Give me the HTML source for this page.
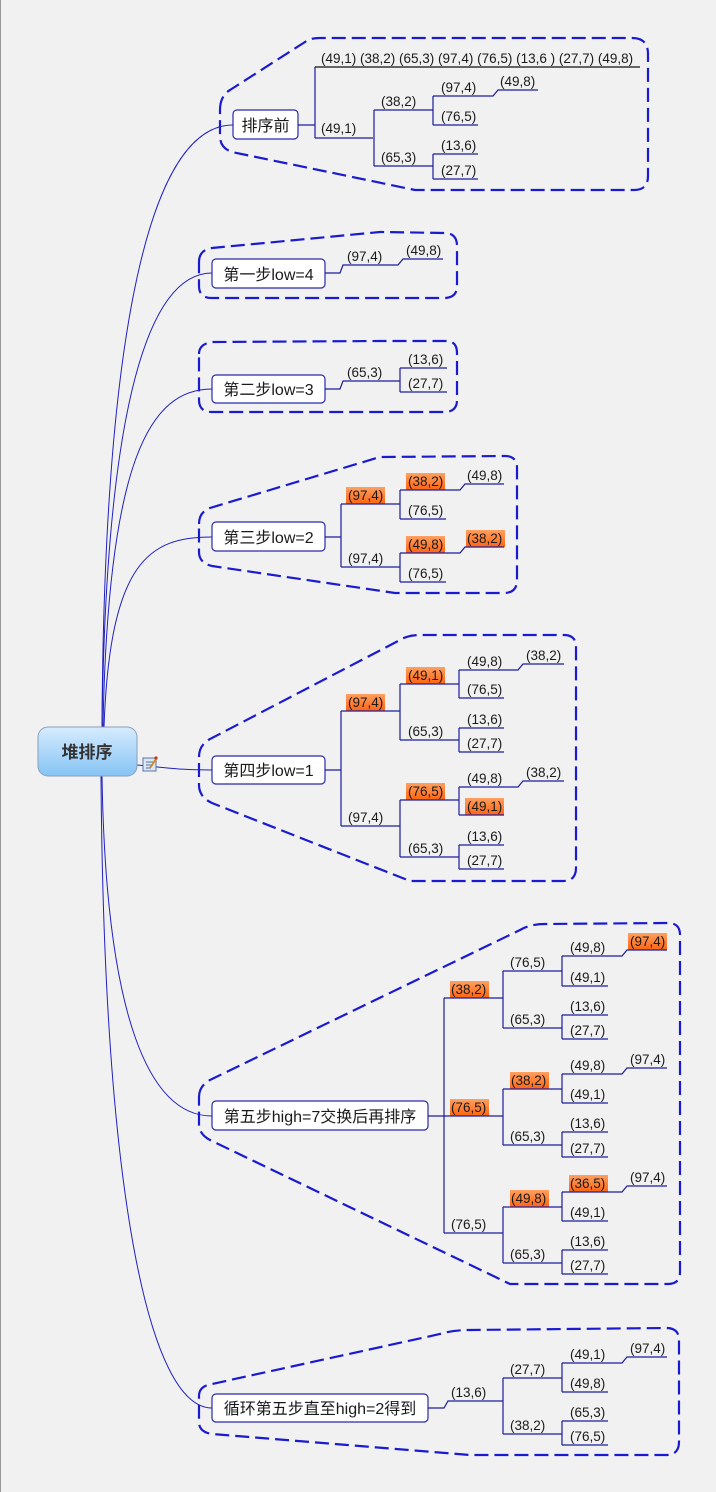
<!DOCTYPE html>
<html><head><meta charset="utf-8"><style>
html,body{margin:0;padding:0;background:#f1f1f1}
svg{display:block}
.t{font-family:"Liberation Sans","Noto Sans CJK SC",sans-serif;font-size:13.5px;fill:#1a1a1a}
.b{font-family:"Liberation Sans","Noto Sans CJK SC",sans-serif;font-size:16px;fill:#1a1a1a}
.l{stroke:#1c1c9c;fill:none;stroke-width:1.2}
.m{stroke:#2020c0;fill:none;stroke-width:1}
.d{stroke:#1a1ad0;fill:none;stroke-width:2.2;stroke-dasharray:14,6}
.o{fill:url(#og)}
.bx{fill:#fff;stroke:#2a2aa8;stroke-width:1.2}
</style></head><body>
<svg width="716" height="1492" viewBox="0 0 716 1492" xmlns="http://www.w3.org/2000/svg">
<defs>
<linearGradient id="og" x1="0" y1="0" x2="0" y2="1"><stop offset="0" stop-color="#ffa060"/><stop offset="1" stop-color="#ff6410"/></linearGradient>
<linearGradient id="rg" x1="0" y1="0" x2="0" y2="1"><stop offset="0" stop-color="#d6ecff"/><stop offset="1" stop-color="#86c4f4"/></linearGradient>
</defs>
<rect x="0" y="0" width="716" height="1492" fill="#f1f1f1"/>
<line x1="0.5" y1="0" x2="0.5" y2="1492" stroke="#999" stroke-width="1"/>

<path class="m" d="M102 727 C104 330 150 125 233 125"/>
<path class="m" d="M102 727 C106 400 150 273 212 273"/>
<path class="m" d="M103 727 C108 460 150 389 212 389"/>
<path class="m" d="M104 727 C110 560 150 537 212 537"/>
<path class="m" d="M137 765 C170 768 180 770 212 770"/>
<path class="m" d="M102 776 C106 1020 150 1116 212 1116"/>
<path class="m" d="M101 776 C104 1200 150 1408 212 1408"/>

<path class="d" d="M220 110 Q220 96 230 90 L305 42 Q310 38 320 38 L632 38 Q648 38 648 54 L648 176 Q648 190 634 190 L415 190 L232 152 Q220 148 220 136 Z"/>
<path class="d" d="M199 262 Q199 250 212 248 L380 232 L446 233 Q457 234 457 246 L457 286 Q457 298 444 298 L212 298 Q199 298 199 286 Z"/>
<path class="d" d="M199 354 Q199 344 212 342 L380 341 L446 341 Q457 341 457 353 L457 400 Q457 412 444 412 L212 412 Q199 412 199 400 Z"/>
<path class="d" d="M199 524 Q199 512 210 508 L380 457 L505 456 Q517 456 517 468 L517 580 Q517 593 504 593 L395 593 L212 566 Q199 563 199 552 Z"/>
<path class="d" d="M199 757 Q199 744 212 738 L400 640 Q408 635 420 635 L564 635 Q576 635 576 647 L576 868 Q576 881 563 881 L410 881 L212 803 Q199 797 199 785 Z"/>
<path class="d" d="M199 1097 Q199 1085 212 1079 L520 930 Q530 924 545 924 L668 923 Q680 923 680 935 L680 1272 Q680 1284 668 1284 L510 1284 L212 1141 Q199 1135 199 1124 Z"/>
<path class="d" d="M199 1396 Q199 1386 212 1384 L440 1334 Q452 1330 470 1330 L666 1328 Q679 1328 679 1340 L679 1442 Q679 1455 666 1455 L470 1455 L212 1434 Q199 1432 199 1422 Z"/>

<rect x="38" y="727" width="99" height="49" rx="10" fill="url(#rg)" stroke="#8aa0b8" stroke-width="1"/>
<text x="87" y="758" text-anchor="middle" font-family="Liberation Sans,Noto Sans CJK SC,sans-serif" font-size="17" font-weight="bold" fill="#333">堆排序</text>
<rect x="143" y="758" width="13" height="13" fill="#dde6f4" stroke="#5577aa" stroke-width="1"/>
<path d="M146 762 H153 M146 765 H153 M146 768 H151" stroke="#5577aa" stroke-width="1"/>
<path d="M150 768 L156 759" stroke="#d09020" stroke-width="2"/>
<circle cx="156" cy="758" r="1.6" fill="#d03020"/>

<rect class="bx" x="233" y="110" width="65" height="29" rx="4"/><text class="b" x="265.5" y="131" text-anchor="middle">排序前</text>
<rect class="bx" x="212" y="259" width="113" height="29" rx="4"/><text class="b" x="268.5" y="280" text-anchor="middle">第一步low=4</text>
<rect class="bx" x="212" y="375" width="113" height="28" rx="4"/><text class="b" x="268.5" y="395" text-anchor="middle">第二步low=3</text>
<rect class="bx" x="212" y="522" width="113" height="29" rx="4"/><text class="b" x="268.5" y="543" text-anchor="middle">第三步low=2</text>
<rect class="bx" x="212" y="756" width="113" height="28" rx="4"/><text class="b" x="268.5" y="776" text-anchor="middle">第四步low=1</text>
<rect class="bx" x="212" y="1101" width="216" height="29" rx="4"/><text class="b" x="320" y="1122" text-anchor="middle">第五步high=7交换后再排序</text>
<rect class="bx" x="212" y="1394" width="216" height="28" rx="4"/><text class="b" x="320" y="1414" text-anchor="middle">循环第五步直至high=2得到</text>

<path class="l" d="M298 125 H315 M315 67 V138"/>
<path d="M315 67 H640" stroke="#111" stroke-width="1.2"/>
<text class="t" x="321" y="63">(49,1) (38,2) (65,3) (97,4) (76,5) (13,6 ) (27,7) (49,8)</text>
<path class="l" d="M315 138 H373 M374 110 V166 M374 110 H432 M374 166 H432 M432 110 H433 M433 96 V125 M433 96 H493 L498 90 H538 M433 125 H478 M432 166 H433 M433 154 V179 M433 154 H478 M433 179 H478"/>
<text class="t" x="321" y="133">(49,1)</text>
<text class="t" x="381" y="106">(38,2)</text>
<text class="t" x="381" y="162">(65,3)</text>
<text class="t" x="441" y="92">(97,4)</text>
<text class="t" x="500" y="86">(49,8)</text>
<text class="t" x="441" y="121">(76,5)</text>
<text class="t" x="441" y="150">(13,6)</text>
<text class="t" x="441" y="175">(27,7)</text>

<path class="l" d="M325 273 H340 L343 265 H398 L403 259 H443"/>
<text class="t" x="347" y="261">(97,4)</text>
<text class="t" x="406" y="255">(49,8)</text>

<path class="l" d="M325 389 H340 L343 381 H400 M400 368 V392 M400 368 H447 M400 392 H447"/>
<text class="t" x="347" y="377">(65,3)</text>
<text class="t" x="408" y="364">(13,6)</text>
<text class="t" x="408" y="388">(27,7)</text>

<rect class="o" x="346" y="487" width="39" height="17"/>
<rect class="o" x="406" y="473" width="39" height="17"/>
<rect class="o" x="406" y="536" width="39" height="17"/>
<rect class="o" x="466" y="530" width="39" height="17"/>
<path class="l" d="M325 537 H341 M341 504 V567 M341 504 H400 M341 567 H400 M400 490 V519 M400 490 H460 L465 484 H504 M400 519 H446 M400 553 V582 M400 553 H460 L465 547 H504 M400 582 H446"/>
<text class="t" x="348" y="500">(97,4)</text>
<text class="t" x="348" y="563">(97,4)</text>
<text class="t" x="408" y="486">(38,2)</text>
<text class="t" x="408" y="515">(76,5)</text>
<text class="t" x="467" y="480">(49,8)</text>
<text class="t" x="408" y="549">(49,8)</text>
<text class="t" x="408" y="578">(76,5)</text>
<text class="t" x="467" y="543">(38,2)</text>

<rect class="o" x="346" y="694" width="39" height="17"/>
<rect class="o" x="406" y="667" width="39" height="17"/>
<rect class="o" x="406" y="783" width="39" height="17"/>
<rect class="o" x="465" y="798" width="39" height="17"/>
<path class="l" d="M325 770 H341 M341 711 V826 M341 711 H400 M341 826 H400
M400 684 V740 M400 684 H459 M400 740 H459
M459 670 V698 M459 670 H518 L523 664 H564 M459 698 H504
M459 728 V752 M459 728 H504 M459 752 H504
M400 800 V857 M400 800 H459 M400 857 H459
M459 787 V815 M459 787 H518 L523 781 H564 M459 815 H504
M459 845 V869 M459 845 H504 M459 869 H504"/>
<text class="t" x="348" y="707">(97,4)</text>
<text class="t" x="348" y="822">(97,4)</text>
<text class="t" x="408" y="680">(49,1)</text>
<text class="t" x="408" y="736">(65,3)</text>
<text class="t" x="467" y="666">(49,8)</text>
<text class="t" x="467" y="694">(76,5)</text>
<text class="t" x="526" y="660">(38,2)</text>
<text class="t" x="467" y="724">(13,6)</text>
<text class="t" x="467" y="748">(27,7)</text>
<text class="t" x="408" y="796">(76,5)</text>
<text class="t" x="408" y="853">(65,3)</text>
<text class="t" x="467" y="783">(49,8)</text>
<text class="t" x="467" y="811">(49,1)</text>
<text class="t" x="526" y="777">(38,2)</text>
<text class="t" x="467" y="841">(13,6)</text>
<text class="t" x="467" y="865">(27,7)</text>

<rect class="o" x="450" y="981" width="39" height="17"/>
<rect class="o" x="628" y="933" width="39" height="17"/>
<rect class="o" x="450" y="1099" width="39" height="17"/>
<rect class="o" x="510" y="1072" width="39" height="17"/>
<rect class="o" x="510" y="1190" width="39" height="17"/>
<rect class="o" x="569" y="1175" width="39" height="17"/>
<path class="l" d="M428 1116 H444 M444 998 V1233 M444 998 H503 M444 1116 H503 M444 1233 H503
M503 971 V1028 M503 971 H562 M503 1028 H562
M562 956 V986 M562 956 H622 L627 950 H667 M562 986 H608
M562 1015 V1039 M562 1015 H608 M562 1039 H608
M503 1089 V1145 M503 1089 H562 M503 1145 H562
M562 1074 V1103 M562 1074 H622 L627 1068 H667 M562 1103 H608
M562 1132 V1157 M562 1132 H608 M562 1157 H608
M503 1207 V1263 M503 1207 H562 M503 1263 H562
M562 1192 V1221 M562 1192 H622 L627 1186 H667 M562 1221 H608
M562 1250 V1274 M562 1250 H608 M562 1274 H608"/>
<text class="t" x="451" y="994">(38,2)</text>
<text class="t" x="451" y="1112">(76,5)</text>
<text class="t" x="451" y="1229">(76,5)</text>
<text class="t" x="510" y="967">(76,5)</text>
<text class="t" x="510" y="1024">(65,3)</text>
<text class="t" x="570" y="952">(49,8)</text>
<text class="t" x="570" y="982">(49,1)</text>
<text class="t" x="630" y="946">(97,4)</text>
<text class="t" x="570" y="1011">(13,6)</text>
<text class="t" x="570" y="1035">(27,7)</text>
<text class="t" x="511" y="1085">(38,2)</text>
<text class="t" x="510" y="1141">(65,3)</text>
<text class="t" x="570" y="1070">(49,8)</text>
<text class="t" x="570" y="1099">(49,1)</text>
<text class="t" x="630" y="1064">(97,4)</text>
<text class="t" x="570" y="1128">(13,6)</text>
<text class="t" x="570" y="1153">(27,7)</text>
<text class="t" x="511" y="1203">(49,8)</text>
<text class="t" x="510" y="1259">(65,3)</text>
<text class="t" x="570" y="1188">(36,5)</text>
<text class="t" x="570" y="1217">(49,1)</text>
<text class="t" x="630" y="1182">(97,4)</text>
<text class="t" x="570" y="1246">(13,6)</text>
<text class="t" x="570" y="1270">(27,7)</text>

<path class="l" d="M428 1408 H444 L448 1401 H503 M503 1378 V1434 M503 1378 H562 M503 1434 H562
M562 1363 V1392 M562 1363 H622 L627 1357 H667 M562 1392 H608
M562 1421 V1445 M562 1421 H608 M562 1445 H608"/>
<text class="t" x="451" y="1397">(13,6)</text>
<text class="t" x="510" y="1374">(27,7)</text>
<text class="t" x="510" y="1430">(38,2)</text>
<text class="t" x="570" y="1359">(49,1)</text>
<text class="t" x="570" y="1388">(49,8)</text>
<text class="t" x="630" y="1353">(97,4)</text>
<text class="t" x="570" y="1417">(65,3)</text>
<text class="t" x="570" y="1441">(76,5)</text>
</svg>
</body></html>
